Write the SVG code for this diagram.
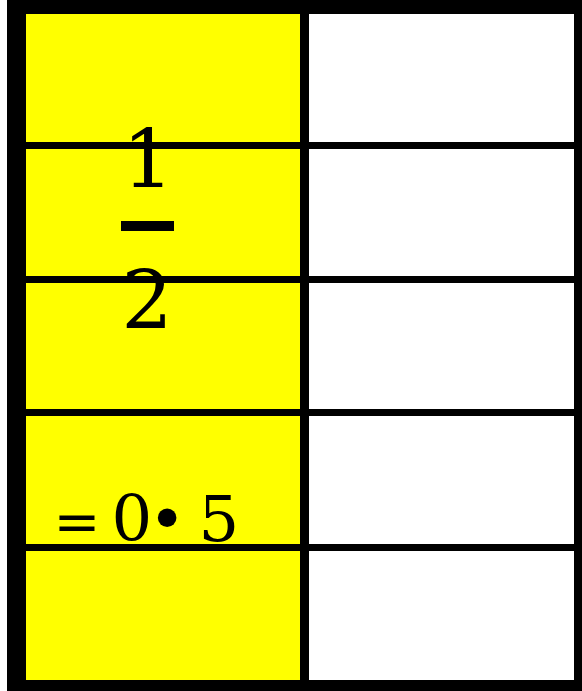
<svg xmlns="http://www.w3.org/2000/svg" width="582" height="691" viewBox="0 0 582 691">
<style>
.t{font-family:"DejaVu Serif","Liberation Serif",serif;fill:#000;text-anchor:middle}
</style>
<rect width="582" height="691" fill="#fff"/>
<g id="frame">
<rect x="7" y="0" width="575" height="691" fill="#000"/>
<rect x="26" y="14" width="274" height="666" fill="#ff0"/>
<rect x="309" y="14" width="265" height="666" fill="#fff"/>
</g>
<g id="lines" fill="#000">
<rect x="26" y="142" width="548" height="7"/>
<rect x="26" y="276" width="548" height="7"/>
<rect x="26" y="409" width="548" height="7"/>
<rect x="26" y="544" width="548" height="7"/>
</g>
<g id="fraction">
<text class="t" x="148" y="187" font-size="81">1</text>
<rect x="121" y="221" width="53" height="10" fill="#000"/>
<text class="t" x="147" y="328" font-size="81">2</text>
</g>
<g id="decimal">
<text class="t" x="77" y="541" font-size="56">=</text>
<text x="111.6" y="541" font-size="64" letter-spacing="-4" font-family="DejaVu Serif, Liberation Serif, serif">0• 5</text>
</g>
</svg>
